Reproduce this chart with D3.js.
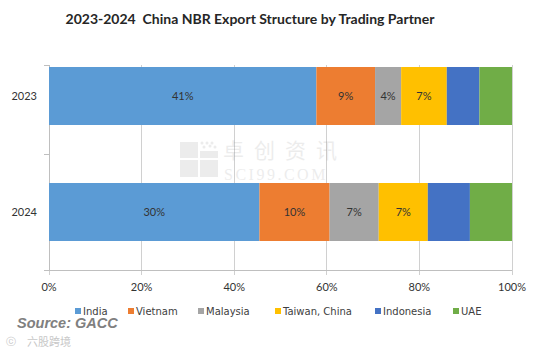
<!DOCTYPE html>
<html>
<head>
<meta charset="utf-8">
<script src="https://cdn.jsdelivr.net/npm/d3@7"></script>
<style>
  html, body { margin: 0; padding: 0; background: #fff; }
  svg { display: block; }
</style>
</head>
<body>
<div id="chart"></div>
<script>
// NBR export shares (% of total exports) by trading partner
const years = ["2023", "2024"];
const partners = ["India", "Vietnam", "Malaysia", "Taiwan, China", "Indonesia", "UAE"];
const values2023 = [41, 9, 4, 7, 5, 5];
const values2024 = [30, 10, 7, 7, 6, 6];
const labelled = ["India", "Vietnam", "Malaysia", "Taiwan, China"];
const xTicks = [0, 0.2, 0.4, 0.6, 0.8, 1.0];
const colors = ["#5B9BD5", "#ED7D31", "#A5A5A5", "#FFC000", "#4472C4", "#70AD47"];

const W = 550, H = 347;
const svg = d3.select("#chart").append("svg").attr("width", W).attr("height", H);

const rows = years.map((y, i) => {
  const vals = [values2023, values2024][i];
  const row = { year: y };
  partners.forEach((p, j) => row[p] = vals[j]);
  return row;
});

// 100% stacking: normalise each year over the listed partners
const stack = d3.stack().keys(partners).offset(d3.stackOffsetExpand);
const series = stack(rows);

const x = d3.scaleLinear().domain([0, 1]).range([49, 512]);
const y = d3.scaleBand().domain(years).range([38, 270]).paddingInner(0.5).paddingOuter(0.25);
const color = d3.scaleOrdinal().domain(partners).range(colors);

const gridTop = 65, gridBottom = 270;

// vertical gridlines
svg.append("g").selectAll("line").data(xTicks).join("line")
  .attr("x1", d => x(d)).attr("x2", d => x(d))
  .attr("y1", gridTop).attr("y2", gridBottom + 5)
  .attr("stroke", "#d0d0d0").attr("stroke-width", 1)
  .attr("shape-rendering", "crispEdges");

// x axis baseline
svg.append("line")
  .attr("x1", x(0) - 5).attr("x2", x(1))
  .attr("y1", gridBottom).attr("y2", gridBottom)
  .attr("stroke", "#bfbfbf").attr("shape-rendering", "crispEdges");

// y axis with category separator ticks
svg.append("line")
  .attr("x1", x(0)).attr("x2", x(0)).attr("y1", gridTop).attr("y2", gridBottom)
  .attr("stroke", "#bfbfbf").attr("shape-rendering", "crispEdges");
const sepY = [gridTop, (y("2023") + y.bandwidth() + y("2024")) / 2, gridBottom];
svg.append("g").selectAll("line").data(sepY).join("line")
  .attr("x1", x(0) - 5).attr("x2", x(0))
  .attr("y1", d => d).attr("y2", d => d)
  .attr("stroke", "#bfbfbf").attr("shape-rendering", "crispEdges");

// watermark
const wm = svg.append("g").attr("opacity", 0.11);
const sq = [[0,0,18,16],[20,9,18,7],[0,18,18,17],[20,18,18,17]];
wm.selectAll("rect").data(sq).join("rect")
  .attr("x", d => 180 + d[0]).attr("y", d => 142 + d[1])
  .attr("width", d => d[2]).attr("height", d => d[3]).attr("fill", "#606060");
const dots = [[22,1],[27,1],[32,1],[24,5],[30,4],[35,5]];
wm.selectAll("circle").data(dots).join("circle")
  .attr("cx", d => 180 + d[0]).attr("cy", d => 142 + d[1]).attr("r", 1.5).attr("fill", "#606060");
wm.append("text").attr("x", 223).attr("y", 158)
  .attr("font-family", "Noto Sans CJK SC").attr("font-size", 21).attr("letter-spacing", 10)
  .attr("fill", "#606060").text("卓创资讯");
wm.append("text").attr("x", 224).attr("y", 180)
  .attr("font-family", "Liberation Serif").attr("font-size", 16).attr("letter-spacing", 2.5)
  .attr("fill", "#606060").text("SCI99.COM");

// bars
const groups = svg.append("g").selectAll("g").data(series).join("g")
  .attr("fill", d => color(d.key));
groups.selectAll("rect").data(d => d).join("rect")
  .attr("x", d => x(d[0]))
  .attr("y", d => y(d.data.year))
  .attr("width", d => x(d[1]) - x(d[0]))
  .attr("height", y.bandwidth());

// value labels
groups.filter(d => labelled.includes(d.key)).each(function(s) {
  d3.select(this).selectAll("text").data(s).join("text")
    .attr("x", d => (x(d[0]) + x(d[1])) / 2)
    .attr("y", d => y(d.data.year) + y.bandwidth() / 2)
    .attr("dy", "0.35em")
    .attr("text-anchor", "middle")
    .attr("font-family", "Lato, 'Open Sans', sans-serif").attr("font-size", 11)
    .attr("fill", "#333333")
    .text(d => d.data[s.key] + "%");
});

// y labels
svg.append("g").selectAll("text").data(years).join("text")
  .attr("x", 37).attr("y", d => y(d) + y.bandwidth() / 2).attr("dy", "0.35em")
  .attr("text-anchor", "end")
  .attr("font-family", "Lato, 'Open Sans', sans-serif").attr("font-size", 11)
  .attr("fill", "#333333").text(d => d);

// x labels
svg.append("g").selectAll("text").data(xTicks).join("text")
  .attr("x", d => x(d)).attr("y", 287).attr("dy", "0.35em")
  .attr("text-anchor", "middle")
  .attr("font-family", "Lato, 'Open Sans', sans-serif").attr("font-size", 11)
  .attr("fill", "#333333").text(d3.format(".0%"));

// title
svg.append("text").attr("x", 250).attr("y", 24).attr("text-anchor", "middle")
  .attr("font-family", "Lato, 'Open Sans', sans-serif").attr("font-weight", "bold")
  .attr("font-size", 14).attr("fill", "#262626")
  .attr("xml:space", "preserve")
  .text("2023-2024  China NBR Export Structure by Trading Partner");

// legend
const legendX = [75, 128, 198, 275, 375, 453];
const lg = svg.append("g").selectAll("g").data(partners).join("g")
  .attr("transform", (d, i) => `translate(${legendX[i]},311)`);
lg.append("rect").attr("x", 0).attr("y", -3).attr("width", 6).attr("height", 6)
  .attr("fill", d => color(d));
lg.append("text").attr("x", 8).attr("dy", "0.35em")
  .attr("font-family", "'DejaVu Sans', Verdana, sans-serif").attr("font-size", 10)
  .attr("fill", "#404040").text(d => d);

// source
svg.append("text").attr("x", 17).attr("y", 328)
  .attr("font-family", "'Liberation Sans', Arial, sans-serif").attr("font-weight", "bold")
  .attr("font-style", "italic").attr("font-size", 14.5).attr("fill", "#808080")
  .text("Source: GACC");
svg.append("text").attr("x", 6).attr("y", 345)
  .attr("font-family", "'DejaVu Sans', sans-serif").attr("font-size", 10)
  .attr("fill", "#c8c8c8").text("ⓒ");
svg.append("text").attr("x", 27).attr("y", 345.5)
  .attr("font-family", "Noto Sans CJK SC").attr("font-size", 11)
  .attr("fill", "#c8c8c8").text("六股跨境");
</script>
</body>
</html>
